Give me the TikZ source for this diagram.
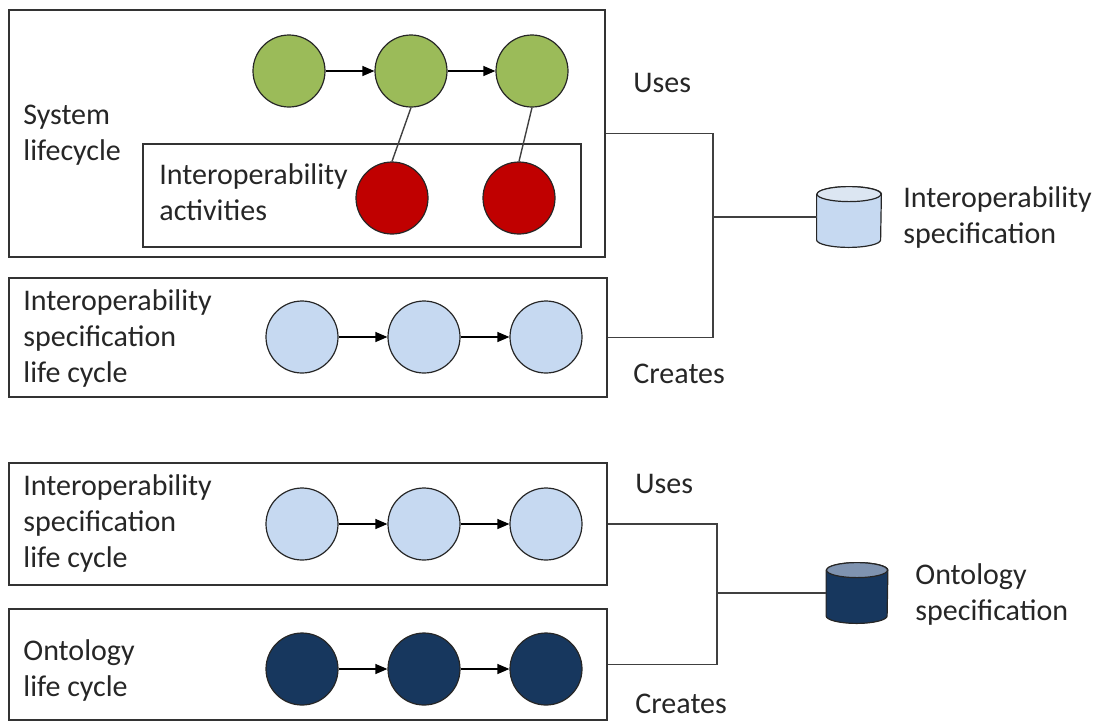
\documentclass[tikz,border=0pt]{standalone}
\usepackage{fontspec}
\setmainfont{Carlito}
\usetikzlibrary{arrows.meta,fit}
\definecolor{sysgreen}{HTML}{9BBB59}
\definecolor{actred}{HTML}{C00000}
\definecolor{speclight}{HTML}{C6D9F1}
\definecolor{speclighttop}{HTML}{DCE6F2}
\definecolor{ontodark}{HTML}{17375E}
\definecolor{ontodarktop}{HTML}{7F93B0}
% drum drawn on an empty node: #1 node, #2 body colour, #3 top colour, #4 half width
\newcommand\drumshape[4]{%
  \draw[line width=0.6pt,draw=black!85,fill=#2]
    ([yshift=-3.75pt]#1.north west) -- ([yshift=3.75pt]#1.south west)
    arc[start angle=180,end angle=360,x radius=#4,y radius=3.75pt]
    -- ([yshift=-3.75pt]#1.north east)
    arc[start angle=0,end angle=180,x radius=#4,y radius=3.75pt] -- cycle;
  \draw[line width=0.6pt,draw=black!85,fill=#3]
    ([yshift=-3.75pt]#1.north) ellipse[x radius=#4,y radius=3.75pt];}

\begin{document}
\begin{tikzpicture}[x=0.5pt,y=-0.5pt,
  every node/.style={font=\fontsize{15}{18}\selectfont,text=black!85},
  frame/.style={draw=black!80,line width=0.9pt,inner sep=0pt},
  stage/.style={circle,draw=black!85,line width=0.6pt,minimum size=36pt,inner sep=0pt},
  flow/.style={-{Triangle[length=6pt,width=5pt]},line width=0.6pt},
  link/.style={draw=black!75,line width=0.7pt},
  lbl/.style={anchor=base west,align=left,inner sep=0pt},
  store/.style={inner sep=0pt,minimum width=32pt,minimum height=30pt}]
   \useasboundingbox (0,0) rectangle (1099,725);
   % frames
   \node[frame,fit={(9,10)(605,257)}] (sysbox) {};
   \node[frame,fit={(143,144)(581,247)}] (actbox) {};
   \node[frame,fit={(9,278)(607,397)}] (isbox1) {};
   \node[frame,fit={(9,463)(607,585)}] (isbox2) {};
   \node[frame,fit={(9,609)(607,720)}] (onbox) {};
   % lifecycle steps
   \foreach \i/\x in {1/289,2/411,3/532}
    \node[stage,fill=sysgreen] (g\i) at (\x,71) {};
   \node[stage,fill=actred] (r1) at (392,198) {};
   \node[stage,fill=actred] (r2) at (519,198) {};
   \foreach \i/\x in {1/302,2/424,3/546} {
    \node[stage,fill=speclight] (a\i) at (\x,337) {};
    \node[stage,fill=speclight] (b\i) at (\x,524) {};
    \node[stage,fill=ontodark] (c\i) at (\x,669) {};
   }
   \foreach \p/\q in {g1/g2,g2/g3,a1/a2,a2/a3,b1/b2,b2/b3,c1/c2,c2/c3}
    \draw[flow] (\p) -- (\q);
   \draw[link] (g2.south) -- (r1.north);
   \draw[link] (g3.south) -- (r2.north);
   % specifications
   \node[store] (spec) at (849,217) {};
   \node[store,minimum width=30.5pt] (onto) at (857,593) {};
   \drumshape{spec}{speclight}{speclighttop}{16pt}
   \drumshape{onto}{ontodark}{ontodarktop}{15.25pt}
   \coordinate (j1) at (713,217);
   \coordinate (j2) at (717,593);
   \draw[link] (sysbox.east) -| (j1) |- (isbox1.east);
   \draw[link] (j1) -- (spec.west);
   \draw[link] (isbox2.east) -| (j2) |- (onbox.east);
   \draw[link] (j2) -- (onto.west);
   % texts (anchored at the last baseline)
   \node[lbl] (sysl) at (23,160) {System\\lifecycle};
   \node[lbl] (actl) at (159,220) {Interoperability\\activities};
   \node[lbl] (isl1) at (23,382) {Interoperability\\specification\\life cycle};
   \node[lbl] (isl2) at (23,567) {Interoperability\\specification\\life cycle};
   \node[lbl] (onl) at (23,696) {Ontology\\life cycle};
   \node[lbl] (uses1) at (633,92) {Uses};
   \node[lbl] (creates1) at (633,383) {Creates};
   \node[lbl] (uses2) at (635,493) {Uses};
   \node[lbl] (creates2) at (635,713) {Creates};
   \node[lbl] (specl) at (903,243) {Interoperability\\specification};
   \node[lbl] (ontol) at (915,620) {Ontology\\specification};
\end{tikzpicture}
\end{document}
